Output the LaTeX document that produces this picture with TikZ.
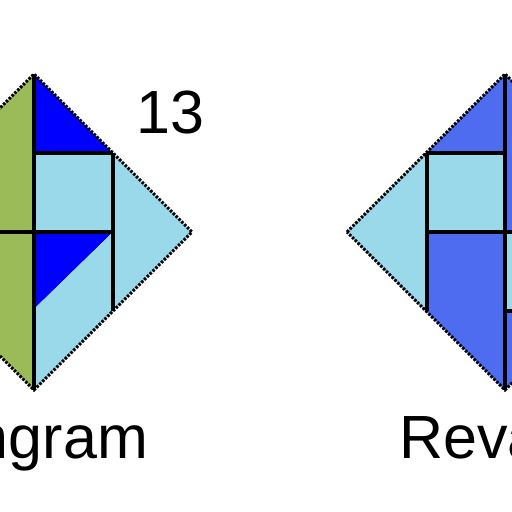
\documentclass[tikz,border=0pt]{standalone}
\usepackage{fontspec}
\setmainfont{Liberation Sans}
\definecolor{tgreen}{RGB}{155,187,89}
\definecolor{tdark}{RGB}{0,0,255}
\definecolor{tlight}{RGB}{153,217,234}
\definecolor{troyal}{RGB}{78,108,239}
\tikzset{
  inner/.style={draw=black,line width=3.5pt},
  outline/.style={draw=black,line width=3pt,dash pattern=on 2.5pt off 1.5pt},
  label/.style={font=\fontsize{61}{61}\selectfont,text=black,inner sep=0pt}
}
\begin{document}
\begin{tikzpicture}[x=1pt,y=-1pt]
\useasboundingbox (0,0) rectangle (512,512);
\clip (0,0) rectangle (512,512);
\fill[white] (0,0) rectangle (512,512);
% ---- left shape (centre x=34)
\fill[tgreen] (34,74) -- (-124,232) -- (34,390) -- cycle;
\fill[tdark] (34,74) -- (113,153) -- (34,153) -- cycle;
\fill[tlight] (34,153) rectangle (113,232);
\fill[tlight] (113,153) -- (192,232) -- (113,311) -- cycle;
\fill[tdark] (34,232) -- (113,232) -- (34,309) -- cycle;
\fill[tlight] (113,232) -- (113,311) -- (34,390) -- (34,309) -- cycle;
\draw[inner] (34,74) -- (34,390);
\draw[inner] (34,153) -- (113,153);
\draw[inner] (113,153) -- (113,311);
\draw[inner] (-124,232) -- (113,232);
\draw[outline] (-124,232) -- (34,74) -- (192,232) -- (34,390) -- cycle;
% ---- right shape (centre x=505)
\fill[troyal] (505,74) -- (663,232) -- (505,390) -- (347,232) -- cycle;
\fill[tlight] (347,232) -- (427,153) -- (427,311) -- cycle;
\fill[tlight] (427,153) rectangle (505,232);
\fill[tlight] (505,232) rectangle (584,311);
\draw[inner] (427,153) -- (427,311);
\draw[inner] (427,153) -- (505,153);
\draw[inner] (505,74) -- (505,390);
\draw[inner] (427,232) -- (584,232);
\draw[inner] (505,311) -- (584,311);
\draw[outline] (347,232) -- (505,74) -- (663,232) -- (505,390) -- cycle;
% ---- texts
\node[label,anchor=base west] (num) at (136,133) {13};
\node[label,anchor=base east] (tan) at (148,458) {Tangram};
\node[label,anchor=base west] (rev) at (399,458) {Reva};
\end{tikzpicture}
\end{document}
